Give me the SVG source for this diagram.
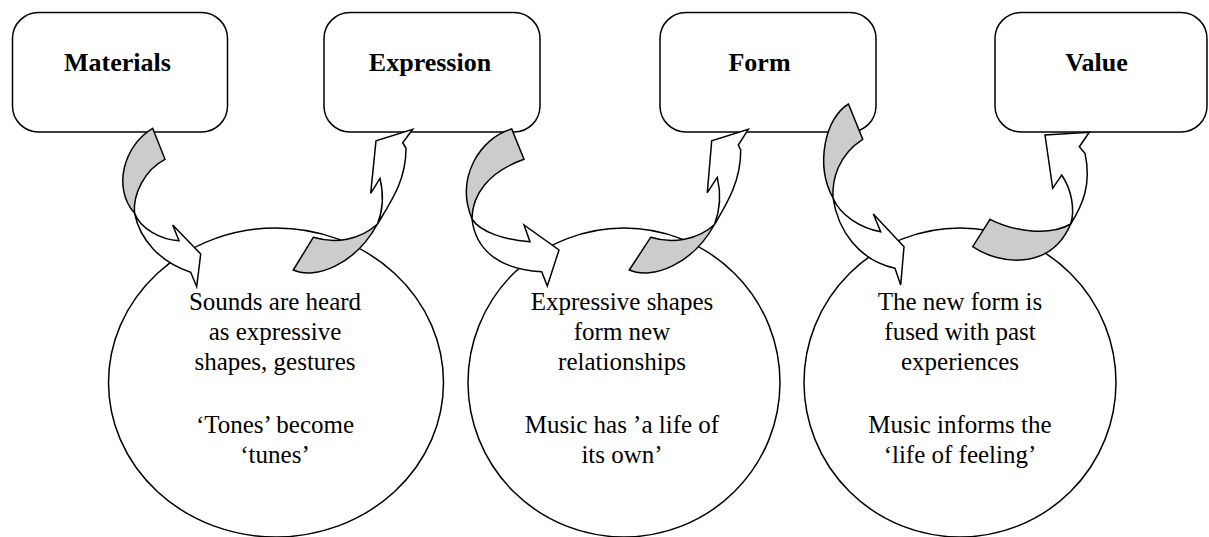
<svg xmlns="http://www.w3.org/2000/svg" width="1209" height="537" viewBox="0 0 1209 537">
<style>
.box{fill:#fff;stroke:#000;stroke-width:1.5}
.circ{fill:#fff;stroke:#000;stroke-width:1.5}
.lbl{font-family:"Liberation Serif","Times New Roman",serif;font-weight:bold;font-size:26px;text-anchor:middle;fill:#000}
.txt{font-family:"Liberation Serif","Times New Roman",serif;font-size:25px;text-anchor:middle;fill:#000}
.back{fill:#cccccc;stroke:#000;stroke-width:1.5;stroke-linejoin:miter}
.front{fill:#fff;stroke:#000;stroke-width:1.5;stroke-linejoin:miter}
</style>
<rect width="1209" height="537" fill="#fff"/>
<g id="materials"><rect class="box" x="12.5" y="12.5" width="215" height="119.5" rx="26" ry="26"/><text class="lbl" x="117.5" y="71">Materials</text></g>
<g id="expression"><rect class="box" x="324" y="12.5" width="216" height="119.5" rx="26" ry="26"/><text class="lbl" x="430" y="71">Expression</text></g>
<g id="form"><rect class="box" x="660" y="12.5" width="216" height="119.5" rx="26" ry="26"/><text class="lbl" x="759.5" y="71">Form</text></g>
<g id="value"><rect class="box" x="995" y="12.5" width="212" height="119.5" rx="26" ry="26"/><text class="lbl" x="1096.5" y="71">Value</text></g>
<g id="circle1"><ellipse class="circ" cx="276" cy="382.5" rx="167.5" ry="154.5"/>
<text class="txt" x="275" y="310">Sounds are heard</text><text class="txt" x="275" y="340">as expressive</text><text class="txt" x="275" y="369.5">shapes, gestures</text><text class="txt" x="275" y="433">‘Tones’ become</text><text class="txt" x="275" y="462.5">‘tunes’</text></g>
<g id="circle2"><ellipse class="circ" cx="624" cy="382.5" rx="156" ry="154.5"/>
<text class="txt" x="622" y="310">Expressive shapes</text><text class="txt" x="622" y="340">form new</text><text class="txt" x="622" y="369.5">relationships</text><text class="txt" x="622" y="433">Music has ’a life of</text><text class="txt" x="622" y="462.5">its own’</text></g>
<g id="circle3"><ellipse class="circ" cx="960" cy="382.5" rx="156" ry="154.5"/>
<text class="txt" x="960" y="310">The new form is</text><text class="txt" x="960" y="340">fused with past</text><text class="txt" x="960" y="369.5">experiences</text><text class="txt" x="960" y="433">Music informs the</text><text class="txt" x="960" y="462.5">‘life of feeling’</text></g>
<g id="connectors">
<g id="arrow-materials-circle1">
<path class="back" d="M152.7,128.3 C124,145 112,188 134.5,213 C133,195 144,170 165,159.3 Z"/>
<path class="front" d="M134.5,213 C140,240 160,262 190.7,272.3 L196.7,286.7 L200.7,254 L172.7,225 L179,240.7 C160,240 140,228 134.5,213 Z"/>
</g>
<g id="arrow-circle1-expression">
<path class="back" d="M313.3,237.3 L293.3,270 C315,280 355,265 377.5,224 C360,240 335,244 313.3,237.3 Z"/>
<path class="front" d="M377.5,224 C392,200 406,180 406,148.3 L402.7,142.7 L412.7,129.3 L376,140.7 L370.7,193.3 L380,178.3 C384,195 383,210 377.5,224 Z"/>
</g>
<g id="arrow-expression-circle2">
<path class="back" d="M511.7,129 C480,138 455,178 472,219 C472,195 488,172 524,159.3 Z"/>
<path class="front" d="M472,219 C476,254 505,270 541.7,271.7 L547.3,286 L559,250 L524,225 L530,241.7 C505,240 480,232 472,219 Z"/>
</g>
<g id="arrow-circle2-form">
<path class="back" d="M650.7,237.3 L629.3,270 C652,280 692,265 714.5,224.5 C698,240 672,244 650.7,237.3 Z"/>
<path class="front" d="M714.5,224.5 C728,202 741,180 740.7,150 L738.3,145 L748.3,129.3 L711.7,140.7 L707.3,192.7 L717.3,177.3 C721,193 720,210 714.5,224.5 Z"/>
</g>
<g id="arrow-form-circle3">
<path class="back" d="M848.5,104 C825,118 815,165 833,198 C832,180 838,155 862.7,139.3 Z"/>
<path class="front" d="M833,198 C838,230 858,260 895,268.3 L900.7,285 L904,246.7 L873.3,214 L880.7,231.7 C860,228 840,215 833,198 Z"/>
</g>
<g id="arrow-circle3-value">
<path class="back" d="M990,219.3 L972.7,246.7 C998,264 1050,272 1070.7,224 C1050,236 1015,232 990,219.3 Z"/>
<path class="front" d="M1070.7,224 C1082,206 1092,185 1085,153.3 L1079.3,146.7 L1089.3,132.3 L1045,135 L1052.7,188.3 L1061.7,175 C1072,190 1075,210 1070.7,224 Z"/>
</g>
</g>
</svg>
